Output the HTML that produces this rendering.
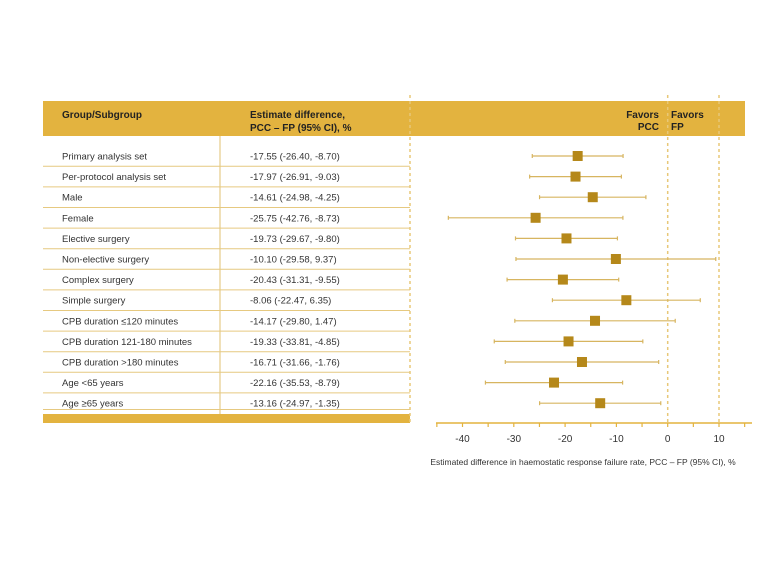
<!DOCTYPE html>
<html><head><meta charset="utf-8"><style>
body{margin:0;background:#fff;font-family:"Liberation Sans",sans-serif;}
</style></head><body>
<svg width="780" height="569" xmlns="http://www.w3.org/2000/svg" font-family="Liberation Sans, sans-serif">
<rect x="43" y="101" width="702" height="35" fill="#e3b33f"/>
<text x="62" y="118" font-size="10" font-weight="bold" fill="#222">Group/Subgroup</text>
<text x="250" y="118" font-size="10" font-weight="bold" fill="#222">Estimate difference,</text>
<text x="250" y="131" font-size="10" font-weight="bold" fill="#222">PCC – FP (95% CI), %</text>
<text x="659" y="118" font-size="10" font-weight="bold" fill="#222" text-anchor="end">Favors</text>
<text x="659" y="130" font-size="10" font-weight="bold" fill="#222" text-anchor="end">PCC</text>
<text x="671" y="118" font-size="10" font-weight="bold" fill="#222">Favors</text>
<text x="671" y="130" font-size="10" font-weight="bold" fill="#222">FP</text>
<line x1="220" y1="136" x2="220" y2="423" stroke="#e0c070" stroke-width="1"/>
<rect x="43" y="414" width="367" height="9" fill="#e3b33f"/>
<g stroke="#e8c878" stroke-width="1.5" stroke-dasharray="3,3">
<line x1="410" y1="95" x2="410" y2="423"/>
<line x1="667.7" y1="95" x2="667.7" y2="423"/>
<line x1="719" y1="95" x2="719" y2="423"/>
</g>
<g id="rows" font-size="9.5" fill="#333"></g>
<line x1="436" y1="423" x2="752" y2="423" stroke="#e3b33f" stroke-width="1.5"/>
<g id="ticks" stroke="#e3b33f" stroke-width="1.2"></g>
<g font-size="10" fill="#333" text-anchor="middle">
<text x="462.5" y="442">-40</text><text x="513.8" y="442">-30</text><text x="565.1" y="442">-20</text><text x="616.4" y="442">-10</text><text x="667.7" y="442">0</text><text x="719" y="442">10</text>
</g>
<text x="583" y="465" font-size="8.5" fill="#333" text-anchor="middle">Estimated difference in haemostatic response failure rate, PCC – FP (95% CI), %</text>
<script>
var d=[["Primary analysis set",-17.55,-26.40,-8.70],["Per-protocol analysis set",-17.97,-26.91,-9.03],["Male",-14.61,-24.98,-4.25],["Female",-25.75,-42.76,-8.73],["Elective surgery",-19.73,-29.67,-9.80],["Non-elective surgery",-10.10,-29.58,9.37],["Complex surgery",-20.43,-31.31,-9.55],["Simple surgery",-8.06,-22.47,6.35],["CPB duration ≤120 minutes",-14.17,-29.80,1.47],["CPB duration 121-180 minutes",-19.33,-33.81,-4.85],["CPB duration >180 minutes",-16.71,-31.66,-1.76],["Age <65 years",-22.16,-35.53,-8.79],["Age ≥65 years",-13.16,-24.97,-1.35]];
var ns="http://www.w3.org/2000/svg",g=document.getElementById("rows"),svg=document.querySelector("svg");
function el(t,a,p){var e=document.createElementNS(ns,t);for(var k in a)e.setAttribute(k,a[k]);(p||svg).appendChild(e);return e;}
function X(v){return 667.7+5.13*v;}
function f(v){return v.toFixed(2);}
d.forEach(function(r,i){var y=156+i*20.6;
var t=el("text",{x:62,y:y+3.5},g);t.textContent=r[0];
var t2=el("text",{x:250,y:y+3.5},g);t2.textContent=f(r[1])+" ("+f(r[2])+", "+f(r[3])+")";
if(i>0)el("line",{x1:43,y1:y-10.3,x2:410,y2:y-10.3,stroke:"#e6c980","stroke-width":1});
el("line",{x1:X(r[2]),y1:y,x2:X(r[3]),y2:y,stroke:"#d7b560","stroke-width":1.2});
el("line",{x1:X(r[2]),y1:y-2,x2:X(r[2]),y2:y+2,stroke:"#d7b560","stroke-width":1.2});
el("line",{x1:X(r[3]),y1:y-2,x2:X(r[3]),y2:y+2,stroke:"#d7b560","stroke-width":1.2});
el("rect",{x:X(r[1])-5,y:y-5,width:10,height:10,fill:"#b5881a"});
});
el("line",{x1:43,y1:409.5,x2:410,y2:409.5,stroke:"#e6c980","stroke-width":1});
var tk=document.getElementById("ticks");
for(var v=-45;v<=15;v+=5)el("line",{x1:X(v),y1:423,x2:X(v),y2:427},tk);
</script>
</svg>
</body></html>
